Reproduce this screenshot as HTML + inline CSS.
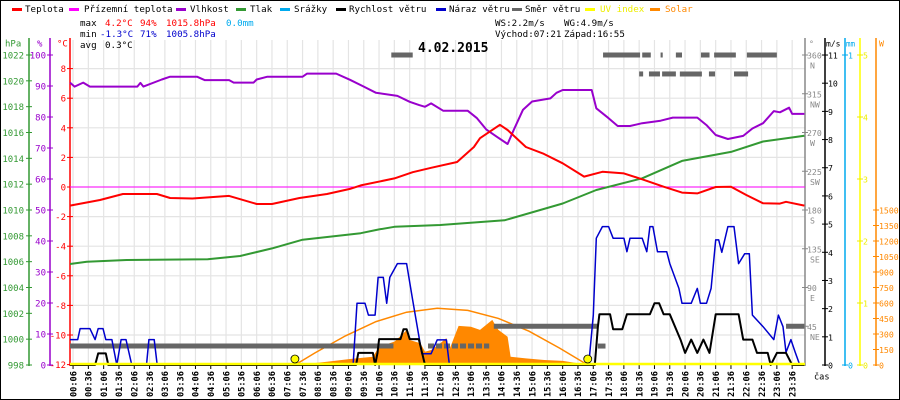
<!DOCTYPE html>
<html><head><meta charset="utf-8"><style>
html,body{margin:0;padding:0;background:#fff}
svg{display:block;font-family:"DejaVu Sans Mono","Liberation Mono",monospace}
</style></head><body>
<svg id="chart" width="900" height="400" viewBox="0 0 900 400" xmlns="http://www.w3.org/2000/svg">
<rect x="0.5" y="0.5" width="899" height="399" fill="#fff" stroke="#000"/>
<g id="grid"></g>
<g id="legend" font-size="9.2">
 <g><rect x="12" y="8" width="10" height="3" fill="#f00"/><text x="25" y="12">Teplota</text></g>
 <g><rect x="69" y="8" width="10" height="3" fill="#f0f"/><text x="84" y="12">Přízemní teplota</text></g>
 <g><rect x="176" y="8" width="10" height="3" fill="#9900cc"/><text x="190" y="12">Vlhkost</text></g>
 <g><rect x="236" y="8" width="10" height="3" fill="#339933"/><text x="250" y="12">Tlak</text></g>
 <g><rect x="280" y="8" width="10" height="3" fill="#00aaee"/><text x="294" y="12">Srážky</text></g>
 <g><rect x="336" y="8" width="10" height="3" fill="#000"/><text x="349" y="12">Rychlost větru</text></g>
 <g><rect x="436" y="8" width="10" height="3" fill="#0000cc"/><text x="449" y="12">Náraz větru</text></g>
 <g><rect x="512" y="8" width="10" height="3" fill="#666"/><text x="525" y="12">Směr větru</text></g>
 <g><rect x="585" y="8" width="10" height="3" fill="#ff0"/><text x="600" y="12" fill="#ee0">UV index</text></g>
 <g><rect x="650" y="8" width="10" height="3" fill="#f80"/><text x="665" y="12" fill="#f80">Solar</text></g>
</g>
<g id="stats" font-size="9.2">
 <text x="80" y="26">max</text><text x="105" y="26" fill="#f00">4.2°C</text><text x="140" y="26" fill="#f00">94%</text><text x="166" y="26" fill="#f00">1015.8hPa</text><text x="226" y="26" fill="#00aaee">0.0mm</text>
 <text x="80" y="37">min</text><text x="100" y="37" fill="#0000cc">-1.3°C</text><text x="140" y="37" fill="#0000cc">71%</text><text x="166" y="37" fill="#0000cc">1005.8hPa</text>
 <text x="80" y="48">avg</text><text x="105" y="48">0.3°C</text>
 <text x="495" y="26">WS:2.2m/s</text><text x="564" y="26">WG:4.9m/s</text>
 <text x="495" y="37">Východ:07:21</text><text x="564" y="37">Západ:16:55</text>
</g>
<text x="418" y="52" font-size="13" font-weight="bold">4.02.2015</text>
<g id="axes"></g>
<g id="series"></g>
</svg>
<script>
const tempT=[0,0.98,1.73,2.84,3.27,4.0,5.2,6.1,6.6,7.5,8.4,9.15,9.5,10.6,11.2,11.8,12.65,13.2,13.4,14.05,14.3,14.9,15.45,16.1,16.8,17.4,18.1,18.7,19.4,20.0,20.5,21.1,21.6,22.1,22.65,23.2,23.4,24];
const tempV=[-1.26,-0.88,-0.47,-0.47,-0.74,-0.78,-0.6,-1.15,-1.15,-0.74,-0.47,-0.13,0.11,0.58,1.0,1.3,1.69,2.7,3.3,4.2,3.85,2.7,2.27,1.6,0.7,1.03,0.92,0.52,0.02,-0.38,-0.43,0,0.02,-0.54,-1.1,-1.12,-1.0,-1.26];
const humT=[0,0.15,0.43,0.65,2.2,2.3,2.4,3.0,3.27,4.15,4.4,4.7,5.2,5.35,6.0,6.1,6.45,7.6,7.75,8.7,9.15,9.6,10.0,10.7,11.1,11.4,11.6,11.8,12.2,13.0,13.3,13.6,13.95,14.3,14.5,14.8,15.1,15.7,15.9,16.1,17.05,17.2,17.6,17.9,18.3,18.7,19.3,19.7,20.5,20.8,21.1,21.5,22.0,22.3,22.65,23.0,23.2,23.5,23.6,24];
const humV=[91.1,89.8,91.1,89.8,89.8,91,89.8,92.1,93,93,91.9,91.9,91.9,91.1,91.1,92.1,93,93,94,94,92,89.8,87.8,86.8,84.9,83.9,83.3,84.4,82,82,79.6,76,73.6,71.3,75.8,82.3,85,86,87.8,88.7,88.7,82.8,79.6,77.1,77.1,78,78.8,79.8,79.8,77.4,74.2,72.9,73.9,76.3,78,81.9,81.5,83,81,81];
const presT=[0,0.55,1.85,4.5,5.56,6.6,7.6,9.5,10.1,10.6,12.1,14.2,16.1,17.2,18.7,20.0,21.6,22.65,24];
const presV=[1005.82,1006.0,1006.13,1006.18,1006.44,1007.03,1007.7,1008.2,1008.5,1008.7,1008.84,1009.2,1010.5,1011.55,1012.45,1013.8,1014.5,1015.3,1015.75];
const gustT=[0,0.25,0.33,0.65,0.82,0.92,1.08,1.17,1.37,1.53,1.67,1.83,2.02,2.5,2.58,2.75,2.85,9.25,9.38,9.64,9.75,9.97,10.07,10.24,10.35,10.45,10.7,11.0,11.2,11.5,11.8,12.0,12.3,12.4,16.95,17.1,17.2,17.4,17.6,17.75,18.1,18.2,18.3,18.7,18.85,18.95,19.05,19.2,19.5,19.6,19.9,20.0,20.3,20.5,20.6,20.8,20.95,21.1,21.2,21.3,21.5,21.7,21.85,22.05,22.2,22.3,22.65,23.0,23.15,23.3,23.4,23.56,23.7,23.85];
const gustV=[0.9,0.9,1.29,1.29,0.9,1.29,1.29,0.9,0.9,0,0.9,0.9,0,0,0.9,0.9,0,0,2.19,2.19,1.77,1.77,3.11,3.11,2.19,3.11,3.6,3.6,2.3,0.4,0.4,0.89,0.89,0,0,1.77,4.5,4.91,4.91,4.5,4.5,4.02,4.5,4.5,4.02,4.91,4.91,4.02,4.02,3.6,2.72,2.19,2.19,2.72,2.19,2.19,2.72,4.44,4.44,4.0,4.91,4.91,3.6,3.95,3.95,1.77,1.36,0.9,1.77,1.36,0.45,0.9,0.45,0];
const windT=[0,0.82,0.92,1.17,1.25,9.35,9.42,9.9,9.97,10.05,10.1,10.8,10.9,11.0,11.1,11.4,11.6,17.15,17.25,17.3,17.65,17.75,18.05,18.2,18.95,19.1,19.25,19.4,19.6,19.95,20.1,20.3,20.5,20.7,20.9,21.1,21.85,22.0,22.3,22.45,22.8,22.9,23.1,23.4,23.6,24];
const windV=[0,0,0.41,0.41,0,0,0.43,0.43,0,0.43,0.92,0.92,1.27,1.27,0.92,0.92,0,0,1.36,1.8,1.8,1.27,1.27,1.8,1.8,2.19,2.19,1.8,1.8,0.9,0.43,0.9,0.43,0.9,0.43,1.8,1.8,0.9,0.9,0.43,0.43,0,0.43,0.43,0,0];
const solT=[7.4,8.4,9.15,9.9,10.1,10.6,10.9,11.0,11.1,11.45,11.6,11.8,12.1,12.3,12.4,12.7,13.1,13.4,13.8,13.9,14.0,14.3,14.4,14.9,15.5,16.1,16.6,16.9];
const solV=[0,32,58,80,177,226,307,339,242,210,129,145,210,260,150,378,371,340,436,387,340,274,80,64,48,40,16,0];
const csT=[7.35,8,9,10,11,12,13,14,15,16,16.92];
const csV=[0,116,282,420,511,549,528,451,327,164,0];
const dirStart=[0,11.7,13.85,17.25,10.5,17.42,18.7,19.3,19.8,20.62,21.05,22.12,23.4,18.6,18.92,19.35,19.93,20.88,21.7];
const dirEnd=[10.57,13.7,17.25,17.5,11.2,18.63,18.98,19.37,20.0,20.9,21.76,23.1,24.0,18.73,19.28,19.8,20.65,21.08,22.16];
const dirVal=[22,22,45,22,360,360,360,360,360,360,360,360,45,338,338,338,338,338,338];
const dirDashed=[false,true,false,false,false,false,false,false,false,false,false,false,false,false,false,false,false,false,false];
const sunEvents=[7.35,16.92];
const tempTicks=[8,6,4,2,0,-2,-4,-6,-8,-10,-12];
const humTicks=[100,90,80,70,60,50,40,30,20,10,0];
const presTicks=[1022,1020,1018,1016,1014,1012,1010,1008,1006,1004,1002,1000,998];
const dirTicks=[360,315,270,225,180,135,90,45];
const dirNames=["N","NW","W","SW","S","SE","E","NE"];
const windTicks=[0,1,2,3,4,5,6,7,8,9,10,11];
const uvTicks=[0,1,2,3,4,5];
const solTicks=[0,150,300,450,600,750,900,1050,1200,1350,1500];

const X=t=>70+t*30.6;
const yT=v=>187-v*14.8;
const yH=v=>365-v*3.1;
const yP=v=>365-(v-998)*12.917;
const yV=v=>365-v*28.18;
const yD=v=>365-v*0.8611;
const yU=v=>365-v*62;
const yW=v=>365-v*0.10333;
const NS="http://www.w3.org/2000/svg";
function mk(tag,attrs,parent){const e=document.createElementNS(NS,tag);for(const k in attrs)e.setAttribute(k,attrs[k]);parent.appendChild(e);return e;}
const grid=document.getElementById('grid'),axes=document.getElementById('axes'),series=document.getElementById('series');

for(let i=0;i<48;i++){
  const t=0.1+i*0.5,x=X(t);
  const g=mk('line',{x1:x,y1:40,x2:x,y2:365,stroke:'#e4e4e4','stroke-width':1.2},grid);
  
  
  const tk=mk('line',{x1:x,y1:365,x2:x,y2:369,stroke:'#000'},axes);
  
  
  const h=Math.floor(t),m=Math.round((t-h)*60);
  const lbl=String(h).padStart(2,'0')+':'+String(m).padStart(2,'0');
  const tx=mk('text',{x:0,y:0,transform:`translate(${x+3.2},397) rotate(-90)`,'font-size':'8.6','font-weight':'bold'},axes);
  tx.textContent=lbl;
  
  
}
tempTicks.forEach(v=>{
  const y=yT(v);
  const g=mk('line',{x1:70,y1:y,x2:805,y2:y,stroke:'#e4e4e4','stroke-width':1.2},grid);
  
  
});
function axisLine(x,col,name){const l=mk('line',{x1:x,y1:38,x2:x,y2:366,stroke:col,'stroke-width':1.5},axes);}
axisLine(29,'#339933','pressure-axis');axisLine(50,'#9900cc','humidity-axis');axisLine(70,'#f00','temperature-axis');
function tickLbl(x,y,txt,col,anchor,name,fs){const t=mk('text',{x:x,y:y+3.5,fill:col,'font-size':fs||'9','text-anchor':anchor},axes);t.textContent=txt;}
function tick(x1,x2,y,col){const l=mk('line',{x1:x1,y1:y,x2:x2,y2:y,stroke:col,'stroke-width':1},axes);}
presTicks.forEach(v=>{const y=yP(v);tick(26,32,y,'#339933');tickLbl(24,y,String(v),'#339933','end','pressure-tick-label');});
humTicks.forEach(v=>{const y=yH(v);tick(47,53,y,'#9900cc');tickLbl(46,y,String(v),'#9900cc','end','humidity-tick-label');});
tempTicks.forEach(v=>{const y=yT(v);tick(67,73,y,'#f00');tickLbl(66,y,String(v),'#f00','end','temperature-tick-label');});
tickLbl(5,43,'hPa','#339933','start','pressure-axis-title');
tickLbl(37,43,'%','#9900cc','start','humidity-axis-title');
tickLbl(57,43,'°C','#f00','start','temperature-axis-title');
axisLine(805,'#888','direction-axis');axisLine(825,'#000','wind-axis');axisLine(845,'#00aaee','rain-axis');axisLine(860,'#ff0','uv-axis');axisLine(876,'#f80','solar-axis');
dirTicks.forEach((v,i)=>{const y=yD(v);tick(802,808,y,'#888');tickLbl(807,y,String(v),'#888','start','direction-tick-label','8.2');tickLbl(810,y+10,dirNames[i],'#888','start','direction-name-label','8.2');});
windTicks.forEach(v=>{const y=yV(v);tick(822,828,y,'#000');tickLbl(828,y,String(v),'#000','start','wind-tick-label','8.2');});
[0,1].forEach(v=>{const y=365-v*310;tick(842,848,y,'#00aaee');tickLbl(848,y,String(v),'#00aaee','start','rain-tick-label','8.2');});
uvTicks.forEach(v=>{const y=yU(v);tick(857,863,y,'#ee0');tickLbl(863,y,String(v),'#ee0','start','uv-tick-label','8.2');});
solTicks.forEach(v=>{const y=yW(v);tick(873,879,y,'#f80');tickLbl(879,y,String(v),'#f80','start','solar-tick-label','8.2');});
tickLbl(809,43,'°','#888','start','direction-axis-title','8.2');
tickLbl(826,43,'m/s','#000','start','wind-axis-title','8');
tickLbl(846,43,'mm','#00aaee','start','rain-axis-title','7.5');
tickLbl(879,43,'W','#f80','start','solar-axis-title','8.2');
tickLbl(814,376,'čas','#000','start','x-axis-title','8.6');

function pts(T,V,fy){return T.map((t,i)=>X(t).toFixed(1)+','+fy(V[i]).toFixed(1)).join(' ');}
const sa=mk('polygon',{points:X(solT[0])+',365 '+pts(solT,solV,yW)+' '+X(solT[solT.length-1])+',365',fill:'#f80'},series);


const cs=mk('polyline',{points:pts(csT,csV,yW),fill:'none',stroke:'#f80','stroke-width':1.5},series);


const z=mk('line',{x1:70,y1:yT(0),x2:805,y2:yT(0),stroke:'#f0f','stroke-width':1},series);


dirStart.forEach((s,i)=>{
  const l=mk('line',{x1:X(s),y1:yD(dirVal[i]),x2:X(dirEnd[i]),y2:yD(dirVal[i]),stroke:'#666','stroke-width':5},series);
  if(dirDashed[i])l.setAttribute('stroke-dasharray','6 2');
  
  
});
function line(T,V,fy,col,w,name){const p=mk('polyline',{points:pts(T,V,fy),fill:'none',stroke:col,'stroke-width':w,'stroke-linejoin':'round'},series);}
line(presT,presV,yP,'#339933',2,'pressure-line');
line(humT,humV,yH,'#9900cc',2,'humidity-line');
line(tempT,tempV,yT,'#f00',2,'temperature-line');
line(gustT,gustV,yV,'#0000cc',1.5,'wind-gust-line');
line(windT,windV,yV,'#000',2,'wind-speed-line');
const uv=mk('line',{x1:70,y1:364,x2:805,y2:364,stroke:'#ff0','stroke-width':2.5},series);


sunEvents.forEach(t=>{
  const c=mk('circle',{cx:X(t),cy:359,r:4,fill:'#ff0',stroke:'#000','stroke-width':0.8},series);
  
  
});
</script>
</body></html>
